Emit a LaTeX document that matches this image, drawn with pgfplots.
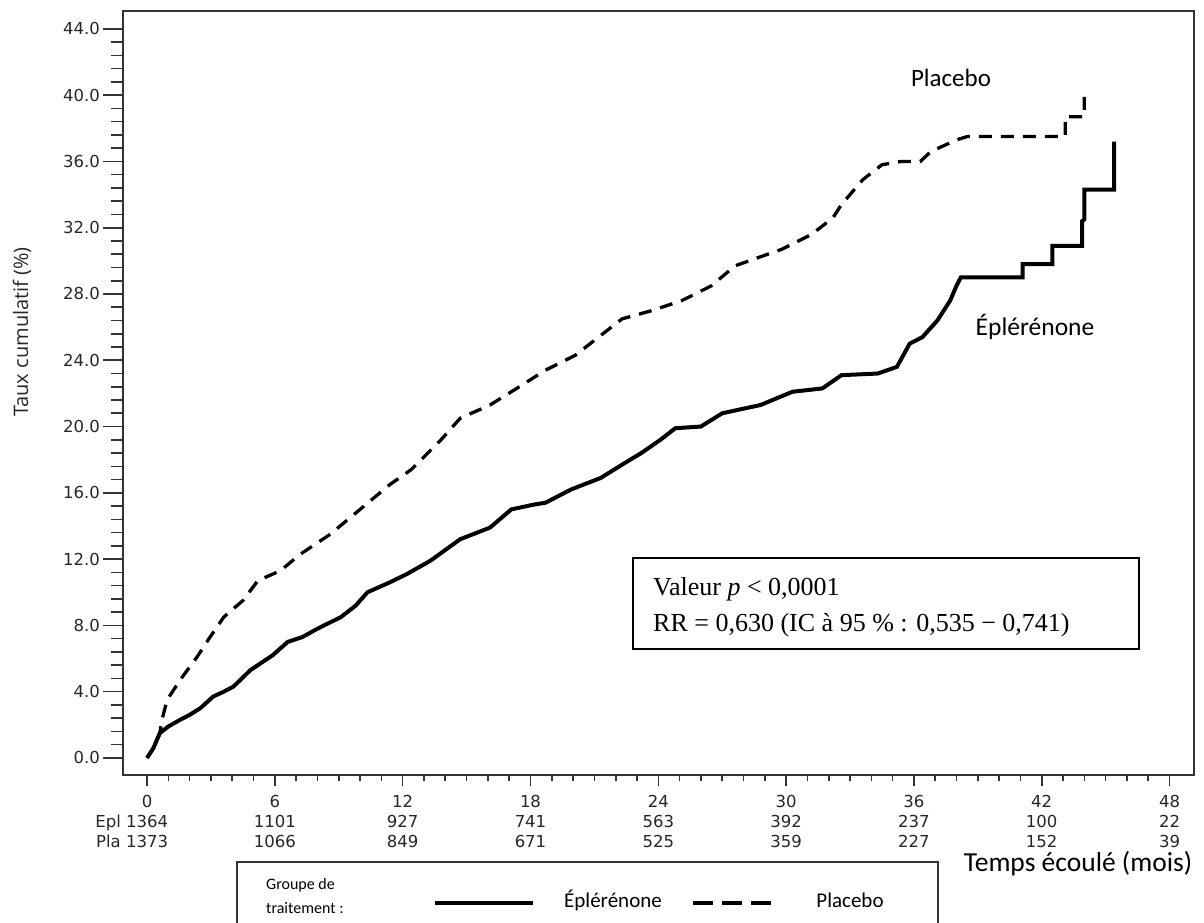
\documentclass[border=0pt]{standalone}
\usepackage{pgfplots}
\pgfplotsset{compat=1.18}
\usepackage{fontspec}
\setmainfont{DejaVu Sans}
\newfontfamily\tickfont{DejaVu Sans}
\newfontfamily\calfont{Carlito}
\newfontfamily\timesfont{Liberation Serif}
\newfontfamily\ylabfont{Open Sans}

\pgfplotstableread{
m v
0 0
0.3 0.6
0.6 1.5
1.0 1.9
1.55 2.3
2.0 2.6
2.5 3.0
3.1 3.7
3.6 4.0
4.05 4.3
4.85 5.3
5.9 6.2
6.6 7.0
7.3 7.3
8.0 7.8
9.1 8.5
9.8 9.2
10.35 10.0
11.4 10.6
12.2 11.1
13.3 11.9
14.7 13.2
16.1 13.9
17.1 15.0
18.2 15.3
18.7 15.4
19.9 16.2
21.3 16.9
22.3 17.7
23.2 18.4
24.1 19.2
24.8 19.9
26.0 20.0
27.0 20.8
28.8 21.3
30.3 22.1
31.7 22.3
32.6 23.1
34.3 23.2
35.2 23.6
35.8 25.0
36.4 25.4
37.1 26.4
37.7 27.6
38.0 28.5
38.2 29.0
41.1 29.0
41.1 29.8
42.5 29.8
42.5 30.9
43.9 30.9
43.9 32.4
44.0 32.5
44.0 34.3
45.4 34.3
45.4 37.2
}\epl

\pgfplotstableread{
m v
0 0
0.3 0.6
0.6 1.5
0.7 2.3
0.94 3.5
1.55 4.7
2.35 6.1
2.96 7.3
3.6 8.5
4.5 9.5
5.2 10.7
6.26 11.3
7.2 12.3
8.6 13.5
10.0 15.0
11.4 16.5
12.4 17.4
13.8 19.2
14.7 20.5
16.1 21.3
17.6 22.5
18.7 23.4
20.1 24.3
21.3 25.5
22.3 26.5
23.7 27.0
25.1 27.6
26.5 28.5
27.6 29.7
29.8 30.7
31.2 31.6
32.2 32.6
32.6 33.4
33.6 34.9
34.5 35.8
35.4 36.0
36.3 36.0
36.8 36.6
38.0 37.3
38.5 37.5
43.1 37.5
43.1 38.7
43.6 38.7
44.0 38.7
44.0 39.9
}\pla

\pgfplotsset{
  kmframe/.style={
    at={(0,0)}, anchor=south west,
    scale only axis, width=1071pt, height=764pt,
    xmin=-1.13, xmax=49.15, ymin=-1.03, ymax=45.08,
    axis line style={line width=1.6pt, black!80},
    tick style={line width=1.6pt, black!80},
    tick align=outside,
    xtick pos=bottom, ytick pos=left,
  }
}

\begin{document}
\begin{tikzpicture}[x=1pt,y=1pt]
\useasboundingbox (-123,-148) rectangle (1081,775);
% axis with the curves and the y ticks
\begin{axis}[kmframe,
  major tick length=20pt, minor tick length=12pt,
  xtick=\empty,
  ytick={0,4,8,12,16,20,24,28,32,36,40,44},
  minor y tick num=4,
  yticklabels={0.0,4.0,8.0,12.0,16.0,20.0,24.0,28.0,32.0,36.0,40.0,44.0},
  yticklabel style={font=\tickfont\fontsize{16.5}{20}\selectfont, inner sep=3pt, text=black!85},
]
\addplot[black, line width=4pt, line join=miter] table[x=m,y=v] {\epl};
\addplot[black, line width=3.3pt, dash pattern=on 13pt off 9pt] table[x=m,y=v] {\pla};
\end{axis}
% axis with the x ticks and the numbers at risk
\begin{axis}[kmframe,
  major tick length=11pt, minor tick length=6pt,
  ytick=\empty,
  xtick={0,6,12,18,24,30,36,42,48},
  minor x tick num=5,
  xticklabels={
    {0\\\makebox[0pt][r]{Epl\ }1364\\\makebox[0pt][r]{Pla\ }1373},
    {6\\1101\\1066},{12\\927\\849},{18\\741\\671},{24\\563\\525},
    {30\\392\\359},{36\\237\\227},{42\\100\\152},{48\\22\\39}},
  xticklabel style={font=\tickfont\fontsize{16.5}{20}\selectfont, align=center, inner sep=2pt, yshift=-7pt, text=black!85},
]
\end{axis}
% y label
\node[rotate=90, font=\ylabfont\fontsize{20}{24}\selectfont, text=black!85] at (-101,443) {Taux cumulatif (\%)};
% curve labels
\node[font=\calfont\fontsize{25}{30}\selectfont] at (828,697) {Placebo};
\node[font=\calfont\fontsize{25.5}{30}\selectfont] at (912,448) {Éplérénone};
% x label
\node[font=\calfont\fontsize{27.5}{32}\selectfont, inner sep=0pt] at (955,-89) {Temps écoulé (mois)};
% text box
\draw[line width=1.4pt] (510,126) rectangle (1016,217);
\node[anchor=base west, font=\timesfont\fontsize{26}{30}\selectfont, inner sep=0pt] at (530,179) {Valeur \textit{p} < 0,0001};
\node[anchor=base west, font=\timesfont\fontsize{26}{30}\selectfont, inner sep=0pt] at (530,143) {RR = 0,630 (IC à 95 \% : 0,535 − 0,741)};
% legend box
\draw[line width=1.6pt, black!80] (114,-87) rectangle (815,-220);
\node[anchor=west, font=\calfont\fontsize{16}{19}\selectfont, inner sep=0pt] at (143,-110) {Groupe de};
\node[anchor=west, font=\calfont\fontsize{16}{19}\selectfont, inner sep=0pt] at (143,-133) {traitement :};
\draw[line width=4pt] (312,-128) -- (410,-128);
\node[font=\calfont\fontsize{21}{24}\selectfont] at (490,-125) {Éplérénone};
\draw[line width=4pt, dash pattern=on 20pt off 9pt] (570,-128) -- (648,-128);
\node[font=\calfont\fontsize{21}{24}\selectfont] at (727,-125) {Placebo};
\end{tikzpicture}
\end{document}
